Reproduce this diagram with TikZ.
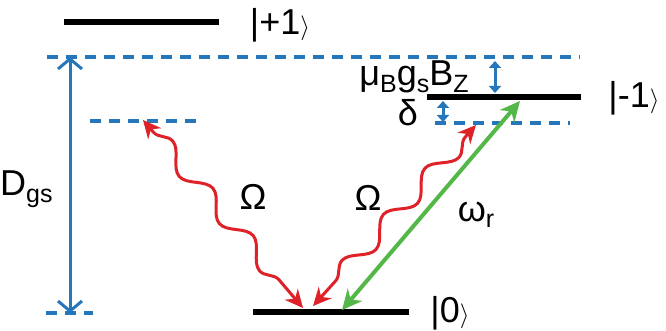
\documentclass[tikz,border=0pt]{standalone}
\usepackage{fontspec}
\setmainfont{Liberation Sans}
\usetikzlibrary{arrows.meta, decorations.pathmorphing}

\definecolor{nvblue}{RGB}{38,118,188}
\definecolor{laserred}{RGB}{222,34,40}
\definecolor{mwgreen}{RGB}{84,184,72}
\newcommand{\lowsub}[1]{\raisebox{-0.18em}{\fontsize{25}{25}\selectfont #1}}

\begin{document}
\begin{tikzpicture}[
        x=1pt, y=-1pt,
        every node/.style={font=\fontsize{36}{42}\selectfont, inner sep=0pt},
        level/.style={line width=6pt, black},
        virtual/.style={line width=3.5pt, nvblue, dash pattern=on 11pt off 8pt},
        split/.style={line width=3pt, nvblue, {Straight Barb[length=10pt,width=24pt,line width=3pt]}-{Straight Barb[length=10pt,width=24pt,line width=3pt]}},
        gapmark/.style={line width=3pt, nvblue, {Triangle[length=7pt,width=12pt]}-{Triangle[length=7pt,width=12pt]}},
        drive/.style={line width=3pt, laserred, {Stealth[length=18pt,width=17pt]}-{Stealth[length=18pt,width=17pt]}, decorate, decoration={snake, segment length=62pt, amplitude=9pt, pre length=16pt, post length=16pt}},
        probe/.style={line width=4pt, mwgreen, {Stealth[length=20pt,width=19pt]}-{Stealth[length=20pt,width=19pt]}}
        ]
        \useasboundingbox (0,0) rectangle (666,331);

        % levels
        \coordinate (plusL) at (64,22);   \coordinate (plusR) at (219,22);
        \coordinate (minusL) at (427,97); \coordinate (minusR) at (581,97);
        \coordinate (zeroL) at (253,312); \coordinate (zeroR) at (409,312);
        \draw[level] (plusL) -- (plusR);
        \draw[level] (minusL) -- (minusR);
        \draw[level] (zeroL) -- (zeroR);
        \node (plus) at (280,25) {|+1$\rangle$};
        \node (minus) at (634,98) {|-1$\rangle$};
        \node (zero) at (450,313) {|0$\rangle$};

        % virtual levels
        \coordinate (topL) at (47,57);    \coordinate (topR) at (580,57);
        \coordinate (midL) at (90,121);   \coordinate (midR) at (203,121);
        \coordinate (detL) at (435,123);  \coordinate (detR) at (570,123);
        \coordinate (botL) at (46,313);   \coordinate (botR) at (93,313);
        \draw[virtual] (topL) -- (topR);
        \draw[virtual] (midL) -- (midR);
        \draw[virtual] (detL) -- (detR);
        \draw[virtual] (botL) -- (botR);

        % zero field splitting
        \coordinate (dTop) at (70,57);
        \coordinate (dBot) at (70,313);
        \draw[split] (dTop) -- (dBot);
        \node[anchor=west] (dgs) at (0,189) {D\lowsub{gs}};

        % zeeman and detuning
        \coordinate (zTop) at (495,61);
        \coordinate (zBot) at (495,93);
        \draw[gapmark] (zTop) -- (zBot);
        \node (zeeman) at (414,77) {μ\lowsub{B}g\lowsub{s}B\lowsub{Z}};
        \coordinate (detTop) at (443,101);
        \coordinate (detBot) at (443,122);
        \draw[gapmark] (detTop) -- (detBot);
        \node (delta) at (408,113) {δ};

        % driving fields
        \coordinate (leftTip) at (143,120);
        \coordinate (leftEnd) at (303,308);
        \draw[drive] (leftTip) -- (leftEnd);
        \node (omegaL) at (253,197) {Ω};
        \coordinate (rightTip) at (476,125);
        \coordinate (rightEnd) at (313,306);
        \draw[drive] (rightTip) -- (rightEnd);
        \node (omegaR) at (368,198) {Ω};

        % microwave
        \coordinate (mwTop) at (520,101);
        \coordinate (mwBot) at (342,310);
        \draw[probe] (mwTop) -- (mwBot);
        \node (omegaMw) at (476,215) {ω\lowsub{r}};
    \end{tikzpicture}
\end{document}
